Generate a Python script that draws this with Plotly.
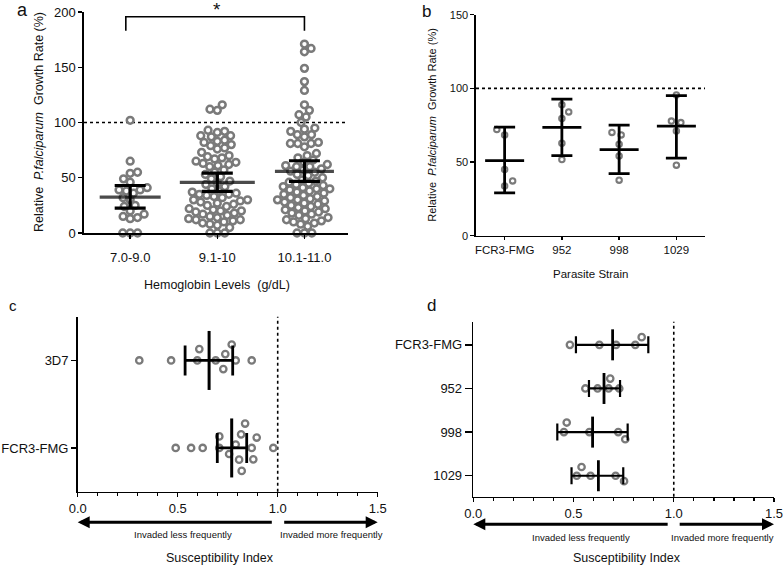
import math
import plotly.graph_objects as go

# ---------------- data ----------------
a_categories = ["7.0-9.0", "9.1-10", "10.1-11.0"]
a_group1 = [102, 65, 54, 55, 49, 46, 39, 41, 39, 38, 36, 30, 32, 24, 25, 20, 17, 15, 13, 14, 0, 0, 0]
a_group2 = [116, 112, 111, 93, 92, 91, 88, 88, 87, 84, 83, 82, 80, 79, 77, 76,
            73, 70, 69, 68, 67, 65, 64, 63, 62, 61, 60, 57, 55, 53, 51,
            49, 47, 45, 44, 42, 40, 38, 37, 36, 35, 35, 34, 33, 32, 30, 30,
            29, 28, 27, 26, 25, 24, 22, 21, 20, 20, 19, 18, 17, 16, 15,
            14, 13, 12, 12, 11, 10, 9, 8, 7, 5, 0, 0, 0]
a_group3 = [171, 167, 164, 149, 137, 129, 116, 111, 107, 105, 100, 95, 94, 92, 89, 89,
            87, 82, 81, 81, 81, 78, 72, 70, 68, 66, 64, 62, 61, 60, 60, 58,
            57, 56, 55, 53, 52, 50, 48, 47, 46, 45, 44, 43, 42, 41, 40, 40,
            39, 38, 37, 36, 35, 34, 33, 32, 31, 30, 30, 29, 28, 27, 26, 25,
            24, 23, 22, 21, 20, 19, 18, 17, 16, 14, 13, 12, 11, 10, 9, 8, 6, 0, 0, 0]
a_mean = [32.5, 45.8, 55.7]
a_lower = [22.6, 37.7, 46.7]
a_upper = [43.0, 54.2, 65.4]

b_categories = ["FCR3-FMG", "952", "998", "1029"]
b_fcr3 = [72.1, 68.4, 45.0, 37.2, 33.7]
b_952 = [88.8, 84.0, 79.5, 62.8, 51.7]
b_998 = [70.1, 68.4, 62.1, 54.1, 37.7]
b_1029 = [95.5, 77.8, 76.8, 71.1, 47.9]
b_mean = [51.0, 73.5, 58.4, 74.4]
b_lower = [29.0, 54.4, 42.1, 52.6]
b_upper = [73.7, 92.7, 75.1, 95.1]

c_categories = ["3D7", "FCR3-FMG"]
c_3d7 = [0.308, 0.467, 0.608, 0.598, 0.69, 0.738, 0.79, 0.77, 0.728, 0.87]
c_fcr3 = [0.49, 0.567, 0.625, 0.708, 0.79, 0.87, 0.978, 0.82, 0.757, 0.807,
          0.895, 0.708, 0.817, 0.878, 0.837]
c_mean = [0.657, 0.77]
c_lower = [0.537, 0.698]
c_upper = [0.775, 0.845]

d_categories = ["FCR3-FMG", "952", "998", "1029"]
d_fcr3 = [0.482, 0.629, 0.712, 0.808, 0.84]
d_952 = [0.559, 0.62, 0.675, 0.683, 0.728]
d_998 = [0.466, 0.452, 0.579, 0.758, 0.723]
d_1029 = [0.54, 0.516, 0.585, 0.752, 0.71]
d_mean = [0.695, 0.652, 0.595, 0.624]
d_lower = [0.512, 0.577, 0.419, 0.49]
d_upper = [0.873, 0.732, 0.77, 0.748]

# ---------------- helpers ----------------
W, H = 784, 568
FONT = "Liberation Sans, Arial, sans-serif"
GREY = "#7a7a7a"


def px(x):
    return x / W


def py(y):
    return 1 - y / H


def swarm(values, px_per_val, diam):
    """Deterministic beeswarm: offsets (px) perpendicular to value axis."""
    order = sorted(range(len(values)), key=lambda i: values[i])
    placed = []
    offs = [0.0] * len(values)
    sign = 1
    for i in order:
        p = values[i] * px_per_val
        cands = [0.0]
        blocks = []
        for q, o in placed:
            d = abs(p - q)
            if d < diam:
                dx = math.sqrt(diam * diam - d * d)
                blocks.append((o - dx, o + dx))
                cands += [o - dx, o + dx]
        best = 0.0
        for c in sorted(cands, key=lambda c: (round(abs(c), 6), -sign * c)):
            if all(not (lo + 1e-6 < c < hi - 1e-6) for lo, hi in blocks):
                best = c
                break
        if best != 0:
            sign = -sign
        offs[i] = best
        placed.append((p, best))
    return offs


fig = go.Figure()

# ---------------- panel a ----------------
a_pxval = 221 / 200.0
a_pxcat = 87.0
for k, grp in enumerate([a_group1, a_group2, a_group3]):
    offs = swarm(grp, a_pxval, 7.4)
    fig.add_trace(go.Scatter(
        x=[k + o / a_pxcat for o in offs], y=grp, mode="markers",
        marker=dict(symbol="circle-open", size=6.8, color=GREY, line=dict(width=2.5, color=GREY)),
        cliponaxis=False, xaxis="x", yaxis="y", showlegend=False, hoverinfo="y"))
fig.add_trace(go.Scatter(
    x=list(range(len(a_categories))), y=a_mean, mode="markers",
    marker=dict(symbol="line-ew", size=[61 / 1.4, 75 / 1.4, 59 / 1.4], color="black",
                line=dict(width=3.2, color="black")),
    error_y=dict(type="data", symmetric=False,
                 array=[u - m for u, m in zip(a_upper, a_mean)],
                 arrayminus=[m - l for m, l in zip(a_mean, a_lower)],
                 thickness=3.2, width=15.5, color="black"),
    cliponaxis=False, xaxis="x", yaxis="y", showlegend=False))

# ---------------- panel b ----------------
b_pxval = 221 / 150.0
b_pxcat = 57.0
for k, grp in enumerate([b_fcr3, b_952, b_998, b_1029]):
    offs = swarm(grp, b_pxval, 9.5)
    fig.add_trace(go.Scatter(
        x=[k + o / b_pxcat for o in offs], y=grp, mode="markers",
        marker=dict(symbol="circle-open", size=5.4, color=GREY, line=dict(width=2.1, color=GREY)),
        cliponaxis=False, xaxis="x2", yaxis="y2", showlegend=False, hoverinfo="y"))
fig.add_trace(go.Scatter(
    x=list(range(len(b_categories))), y=b_mean, mode="markers",
    marker=dict(symbol="line-ew", size=39 / 1.4, color="black", line=dict(width=2.8, color="black")),
    error_y=dict(type="data", symmetric=False,
                 array=[u - m for u, m in zip(b_upper, b_mean)],
                 arrayminus=[m - l for m, l in zip(b_mean, b_lower)],
                 thickness=2.8, width=10.5, color="black"),
    cliponaxis=False, xaxis="x2", yaxis="y2", showlegend=False))

# ---------------- panel c ----------------
c_pxval = 200.0
c_pxcat = 87.3
c_pos = [len(c_categories) - 1 - i for i in range(len(c_categories))]
for k, grp in enumerate([c_3d7, c_fcr3]):
    offs = swarm(grp, c_pxval, 11.5)
    fig.add_trace(go.Scatter(
        x=grp, y=[c_pos[k] + o / c_pxcat for o in offs], mode="markers",
        marker=dict(symbol="circle-open", size=6.4, color=GREY, line=dict(width=2.3, color=GREY)),
        cliponaxis=False, xaxis="x3", yaxis="y3", showlegend=False, hoverinfo="x"))
fig.add_trace(go.Scatter(
    x=c_mean, y=c_pos, mode="markers",
    marker=dict(symbol="line-ns", size=59 / 1.4, color="black", line=dict(width=3, color="black")),
    error_x=dict(type="data", symmetric=False,
                 array=[u - m for u, m in zip(c_upper, c_mean)],
                 arrayminus=[m - l for m, l in zip(c_mean, c_lower)],
                 thickness=2.8, width=15, color="black"),
    cliponaxis=False, xaxis="x3", yaxis="y3", showlegend=False))

# ---------------- panel d ----------------
d_pxval = 200.5
d_pxcat = 43.7
d_pos = [len(d_categories) - 1 - i for i in range(len(d_categories))]
for k, grp in enumerate([d_fcr3, d_952, d_998, d_1029]):
    offs = swarm(grp, d_pxval, 10.0)
    fig.add_trace(go.Scatter(
        x=grp, y=[d_pos[k] + o / d_pxcat for o in offs], mode="markers",
        marker=dict(symbol="circle-open", size=6.4, color=GREY, line=dict(width=2.3, color=GREY)),
        cliponaxis=False, xaxis="x4", yaxis="y4", showlegend=False, hoverinfo="x"))
fig.add_trace(go.Scatter(
    x=d_mean, y=d_pos, mode="markers",
    marker=dict(symbol="line-ns", size=31 / 1.4, color="black", line=dict(width=2.8, color="black")),
    error_x=dict(type="data", symmetric=False,
                 array=[u - m for u, m in zip(d_upper, d_mean)],
                 arrayminus=[m - l for m, l in zip(d_mean, d_lower)],
                 thickness=2.2, width=8.5, color="black"),
    cliponaxis=False, xaxis="x4", yaxis="y4", showlegend=False))

# ---------------- axes ----------------
axis_common = dict(showline=True, linecolor="black", linewidth=1.6, ticks="outside",
                   tickcolor="black", tickwidth=1.4, showgrid=False, zeroline=False,
                   fixedrange=True, automargin=False)

layout = dict(
    width=W, height=H, margin=dict(l=0, r=0, t=0, b=0, autoexpand=False),
    paper_bgcolor="white", plot_bgcolor="white",
    font=dict(family=FONT, color="#111"),
    xaxis=dict(axis_common, domain=[px(84), px(348)], range=[-0.53, 2.5], anchor="y",
               tickvals=list(range(len(a_categories))), ticktext=a_categories,
               ticklen=4, tickfont=dict(size=13), ticklabelstandoff=8),
    yaxis=dict(axis_common, domain=[py(233), py(12)], range=[0, 200], anchor="x",
               tickvals=[0, 50, 100, 150, 200], ticklen=4, tickfont=dict(size=13)),
    xaxis2=dict(axis_common, domain=[px(476), px(705)], range=[-0.5, 3.5], anchor="y2",
                tickvals=list(range(len(b_categories))), ticktext=b_categories,
                ticklen=3, tickfont=dict(size=11.5)),
    yaxis2=dict(axis_common, domain=[py(235.7), py(14.7)], range=[0, 150], anchor="x2",
                tickvals=[0, 50, 100, 150], ticklen=4, tickfont=dict(size=11)),
    xaxis3=dict(axis_common, domain=[px(77.7), px(377.7)], range=[0, 1.5], anchor="y3",
                tickvals=[0, 0.5, 1.0, 1.5], ticktext=["0.0", "0.5", "1.0", "1.5"],
                ticklen=4, tickfont=dict(size=13),
                minor=dict(tick0=0, dtick=0.1, ticks="outside", ticklen=3, tickwidth=1.3,
                           tickcolor="black", showgrid=False)),
    yaxis3=dict(axis_common, domain=[py(491.7), py(316.7)], range=[-0.5, 1.5], anchor="x3",
                tickvals=c_pos, ticktext=c_categories, ticklen=5, tickfont=dict(size=13)),
    xaxis4=dict(axis_common, domain=[px(473.3), px(774)], range=[0, 1.5], anchor="y4",
                tickvals=[0, 0.5, 1.0, 1.5], ticktext=["0.0", "0.5", "1.0", "1.5"],
                ticklen=4, tickfont=dict(size=13),
                minor=dict(tick0=0, dtick=0.1, ticks="outside", ticklen=3, tickwidth=1.3,
                           tickcolor="black", showgrid=False)),
    yaxis4=dict(axis_common, domain=[py(496.7), py(321.7)], range=[-0.48, 3.53], anchor="x4",
                tickvals=d_pos, ticktext=d_categories, ticklen=7, tickfont=dict(size=13)),
)
fig.update_layout(**layout)

# ---------------- reference lines and bracket ----------------
dot = dict(color="black", width=1.6, dash="dot")
fig.add_shape(type="line", xref="x domain", yref="y", x0=0, x1=1, y0=100, y1=100, line=dot, layer="below")
fig.add_shape(type="line", xref="x2 domain", yref="y2", x0=0, x1=1, y0=100, y1=100, line=dot, layer="below")
fig.add_shape(type="line", xref="x3", yref="y3 domain", x0=1.0, x1=1.0, y0=0, y1=1, line=dot, layer="below")
fig.add_shape(type="line", xref="x4", yref="y4 domain", x0=1.0, x1=1.0, y0=0, y1=1, line=dot, layer="below")

# significance bracket between first and last hemoglobin groups
br = dict(color="black", width=1.6)
fig.add_shape(type="path", xref="x", yref="paper",
              path=f"M -0.05,{py(30.7)} L -0.05,{py(16.7)} L 2,{py(16.7)} L 2,{py(30.7)}",
              line=br)

# ---------------- annotations ----------------
ann = []


def txt(x, y, text, size, **kw):
    d = dict(x=px(x), y=py(y), xref="paper", yref="paper", text=text, showarrow=False,
             font=dict(size=size, family=FONT, color="#111"), xanchor="center", yanchor="middle")
    d.update(kw)
    ann.append(d)


NB = "\u00a0"
txt(22.7, 10, "a", 18)
txt(427, 11, "b", 17)
txt(13.5, 306, "c", 15)
txt(431, 305, "d", 17)
txt(216.7, 9, "*", 19)
txt(38.3, 121.7, f"Relative{NB}{NB}<i>P.falciparum</i>{NB}{NB}Growth Rate (%)", 12.5, textangle=-90)
txt(216.7, 285, f"Hemoglobin Levels{NB}{NB}(g/dL)", 12.5)
txt(431.7, 125, f"Relative{NB}{NB}<i>P.falciparum</i>{NB}{NB}Growth Rate (%)", 11, textangle=-90)
txt(590, 274.3, "Parasite Strain", 11.5)
txt(220, 558.3, "Susceptibility Index", 12.5)
txt(626.7, 558.3, "Susceptibility Index", 12.5)
txt(183, 534.3, "Invaded less frequently", 9.5)
txt(331.7, 534.3, "Invaded more frequently", 9.5)
txt(581, 537.3, "Invaded less frequently", 9.5)
txt(722.7, 537.3, "Invaded more frequently", 9.5)


def arrow(xax, tip, tail, ypix):
    ann.append(dict(x=tip, y=py(ypix), xref=xax, yref="paper", ax=tail, ay=0,
                    axref=xax, ayref="pixel", text="", showarrow=True,
                    arrowhead=2, arrowsize=0.8, arrowwidth=3, arrowcolor="black",
                    standoff=0, startstandoff=0))


arrow("x3", 0.0, 0.978, 522.3)
arrow("x3", 1.5, 1.025, 522.3)
arrow("x4", 0.0, 0.977, 524.3)
arrow("x4", 1.5, 1.022, 524.3)

fig.update_layout(annotations=ann)
fig.write_html("out.html", config={"displayModeBar": False, "staticPlot": True},
               post_script="document.body.style.margin='0';document.body.style.overflow='hidden';")
